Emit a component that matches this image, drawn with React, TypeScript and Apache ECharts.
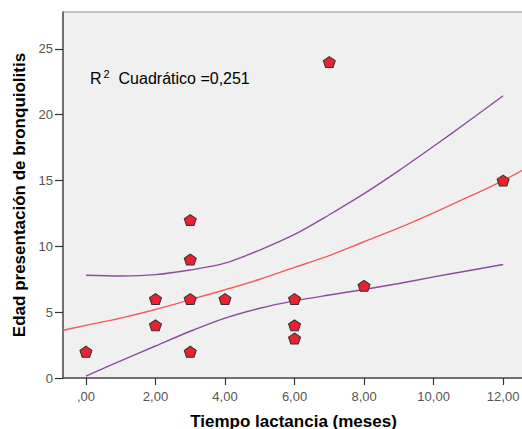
import React, { useEffect, useRef } from "react";
import * as echarts from "echarts";

// Observations: [Tiempo lactancia (meses), Edad presentación de bronquiolitis]
const observedPoints: number[][] = [
  [0, 2], [2, 6], [2, 4], [3, 12], [3, 9], [3, 6], [3, 2], [4, 6],
  [6, 6], [6, 4], [6, 3], [7, 24], [8, 7], [12, 15],
];

// Quadratic fit line
const fitLine: number[][] = [
  [-0.66, 3.63], [0, 4.0], [1, 4.55], [2, 5.2], [3, 5.95], [4, 6.7], [5, 7.5],
  [6, 8.4], [7, 9.3], [8, 10.35], [9, 11.4], [10, 12.55], [11, 13.75],
  [12, 15.0], [12.6, 15.85],
];

// Upper confidence band
const upperBand: number[][] = [
  [0, 7.81], [1, 7.75], [2, 7.85], [3, 8.2], [4, 8.72], [5, 9.72], [6, 10.9],
  [7, 12.4], [8, 14.0], [9, 15.75], [10, 17.6], [11, 19.5], [12, 21.44],
];

// Lower confidence band
const lowerBand: number[][] = [
  [0, 0.15], [1, 1.3], [2, 2.43], [3, 3.55], [4, 4.55], [5, 5.3], [6, 5.86],
  [7, 6.3], [8, 6.72], [9, 7.18], [10, 7.68], [11, 8.15], [12, 8.62],
];

const xTicks = [0, 2, 4, 6, 8, 10, 12];
const yTicks = [0, 5, 10, 15, 20, 25];
const r2Text = "Cuadrático =0,251";

const pentagon =
  "path://M0,-10 L9.51,-3.09 L5.88,8.09 L-5.88,8.09 L-9.51,-3.09 Z";

const fmtX = (v: number) => (v === 0 ? ",00" : v.toFixed(2).replace(".", ","));

export default function App() {
  const ref = useRef<HTMLDivElement>(null);
  useEffect(() => {
    if (!ref.current) return;
    const chart = echarts.init(ref.current, undefined, { renderer: "svg" });
    const labelStyle = {
      color: "#555555",
      fontSize: 13,
      fontFamily: "Liberation Sans, Arial, sans-serif",
    };
    const nameStyle = {
      color: "#000000",
      fontSize: 17,
      fontWeight: "bold" as const,
      fontFamily: "Liberation Sans, Arial, sans-serif",
    };
    const bandLine = { color: "#8e4c9f", width: 1.4 };
    chart.setOption({
      animation: false,
      backgroundColor: "#ffffff",
      grid: {
        left: 63,
        top: 12,
        right: -2,
        bottom: 51,
        outerBoundsMode: "none",
        containLabel: false,
        show: true,
        backgroundColor: "#f0f0f0",
        borderColor: "#8c8c8c",
        borderWidth: 1,
      },
      xAxis: {
        type: "value",
        min: -0.66,
        max: 12.6,
        name: "Tiempo lactancia (meses)",
        nameLocation: "middle",
        nameGap: 35,
        nameTextStyle: nameStyle,
        axisLine: { show: true, onZero: false, lineStyle: { color: "#555555", width: 1.5 } },
        axisTick: {
          show: true,
          length: 7,
          customValues: xTicks,
          lineStyle: { color: "#333333", width: 1.2 },
        },
        axisLabel: { ...labelStyle, margin: 12, customValues: xTicks, formatter: fmtX },
        splitLine: { show: false },
      },
      yAxis: {
        type: "value",
        min: 0,
        max: 27.8,
        name: "Edad presentación de bronquiolitis",
        nameLocation: "middle",
        nameGap: 34,
        nameTextStyle: nameStyle,
        axisLine: { show: true, onZero: false, lineStyle: { color: "#555555", width: 1.5 } },
        axisTick: {
          show: true,
          length: 8,
          customValues: yTicks,
          lineStyle: { color: "#333333", width: 1.2 },
        },
        axisLabel: { ...labelStyle, margin: 10, customValues: yTicks },
        splitLine: { show: false },
      },
      graphic: [
        {
          type: "text",
          left: 90,
          top: 68,
          style: {
            text: "{a|R}{sup|2}{a|  " + r2Text + "}",
            rich: {
              a: { fontSize: 16, fontFamily: "Liberation Sans, Arial, sans-serif", fill: "#000", verticalAlign: "bottom" },
              sup: { fontSize: 11, fontFamily: "Liberation Sans, Arial, sans-serif", fill: "#000", padding: [0, 0, 7, 2] },
            },
          },
          z: 10,
        },
      ],
      series: [
        {
          type: "line",
          data: fitLine,
          showSymbol: false,
          smooth: 0.3,
          lineStyle: { color: "#f25c5c", width: 1.4 },
          silent: true,
          z: 2,
        },
        {
          type: "line",
          data: upperBand,
          showSymbol: false,
          smooth: 0.3,
          lineStyle: bandLine,
          silent: true,
          z: 2,
        },
        {
          type: "line",
          data: lowerBand,
          showSymbol: false,
          smooth: 0.3,
          lineStyle: bandLine,
          silent: true,
          z: 2,
        },
        {
          type: "scatter",
          data: observedPoints,
          symbol: pentagon,
          symbolSize: [12, 11],
          itemStyle: { color: "#e8222f", borderColor: "#333333", borderWidth: 1, opacity: 1 },
          z: 5,
        },
      ],
    });
    return () => chart.dispose();
  }, []);
  return (
    <div
      ref={ref}
      style={{ position: "fixed", left: 0, top: 0, width: 522, height: 429 }}
    />
  );
}
